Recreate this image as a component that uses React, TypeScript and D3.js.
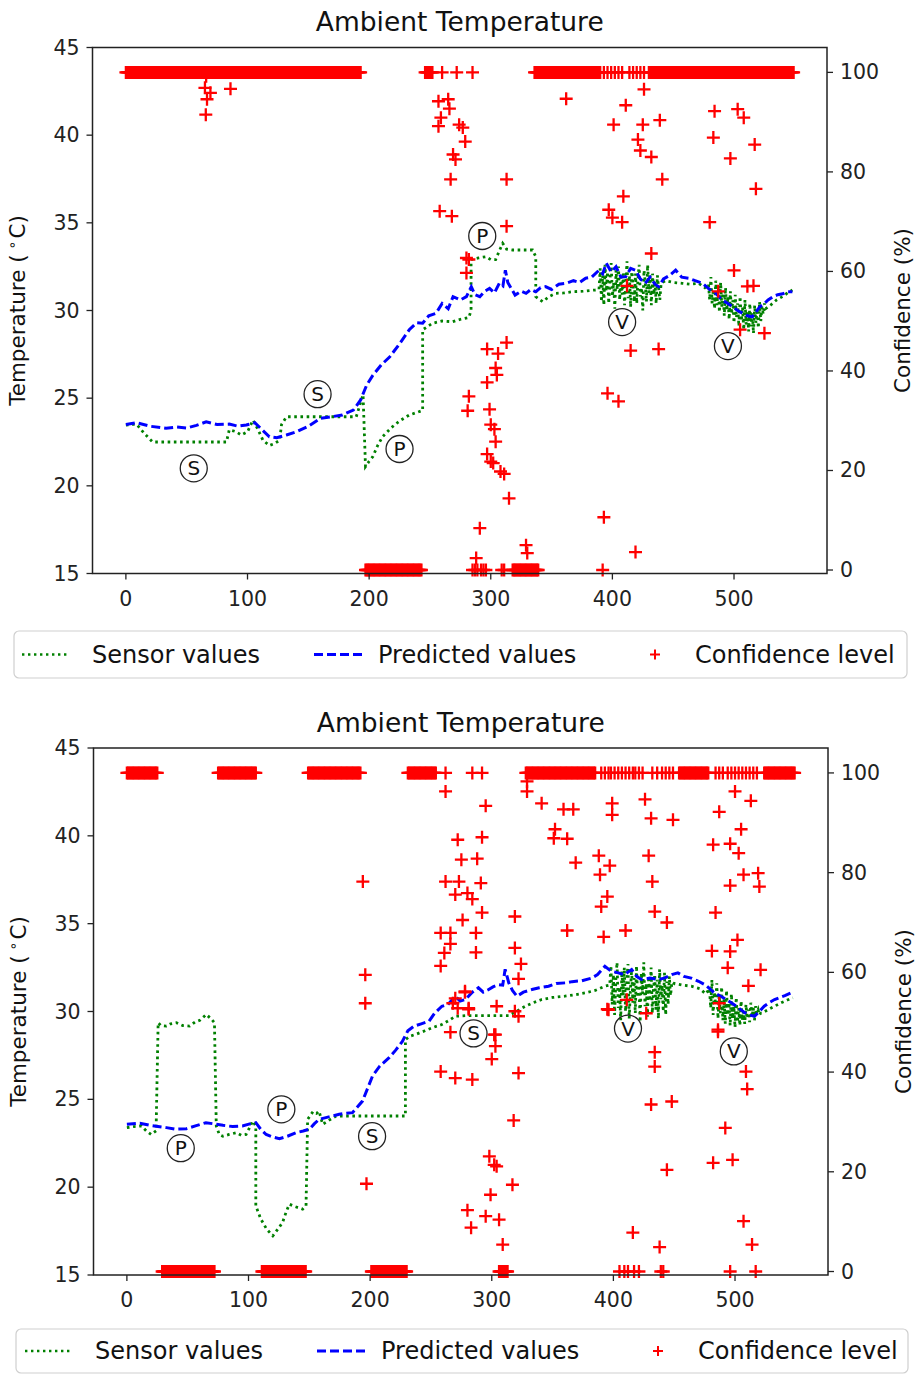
import React from 'react';
import * as d3 from 'd3';

const X_TICKS = [0, 100, 200, 300, 400, 500];
const T_TICKS = [15, 20, 25, 30, 35, 40, 45];
const C_TICKS = [0, 20, 40, 60, 80, 100];
const TITLE = 'Ambient Temperature';
const LEGEND_LABELS = ['Sensor values', 'Predicted values', 'Confidence level'];
const Y_LEFT_LABEL = 'Temperature (';
const Y_RIGHT_LABEL = 'Confidence (%)';

// ---------- Panel 1 ----------
const pred1: number[][] = [[0,23.5],[9,23.6],[20,23.4],[33,23.28],[42,23.35],[50,23.3],[58,23.45],[66,23.65],[75,23.5],[85,23.52],[92,23.4],[99,23.47],[106,23.6],[112,23.2],[118,22.8],[124,22.74],[132,22.9],[140,23.08],[150,23.4],[160,23.85],[170,23.95],[178,24.04],[187,24.32],[193,24.9],[198,25.75],[203,26.3],[210,26.9],[217,27.36],[225,28.1],[233,28.9],[239,29.3],[244,29.27],[249,29.7],[255,29.84],[260,30.4],[265,30.1],[269,30.79],[275,30.6],[280,30.79],[284,31.36],[287,30.9],[291,30.79],[295,31.1],[299,31.26],[303,31.0],[307,31.55],[310,31.4],[312,32.3],[314,31.6],[316,31.36],[320,30.88],[325,31.1],[329,30.98],[333,31.2],[337,31.07],[341,31.3],[345,31.36],[350,31.2],[356,31.5],[362,31.55],[368,31.7],[373,31.6],[378,31.84],[383,31.9],[389,32.3],[392,32.1],[395,32.7],[399,32.2],[403,32.5],[407,31.9],[411,31.93],[415,32.4],[419,32.3],[423,31.8],[427,31.55],[431,31.9],[435,31.5],[438,31.36],[442,31.8],[447,32.0],[452,32.3],[457,31.9],[463,31.84],[468,31.7],[474,31.55],[480,31.2],[485,30.98],[490,30.6],[495,30.4],[499,30.2],[503,30.0],[507,29.84],[511,29.7],[515,29.64],[518,29.9],[521,30.2],[525,30.4],[528,30.6],[532,30.79],[536,30.9],[540,30.95],[544,31.07],[548,31.07]];

const sensor1A: number[][] = [[0,23.47],[5,23.5],[9,23.5],[15,23.0],[22,22.5],[30,22.5],[40,22.5],[50,22.5],[60,22.5],[70,22.5],[82.7,22.5],[85,23.2],[90,23.1],[95,22.9],[100,23.08],[104.5,23.75],[108,23.3],[112.7,22.6],[118,22.3],[122,22.4],[126.4,22.6],[128,23.5],[132,23.94],[150,23.94],[170,23.94],[189.4,23.94],[195,25.2],[197,21.1],[200,21.4],[203,21.66],[207,22.3],[211,22.8],[218,23.3],[225,23.7],[233,24.04],[240,24.2],[244,24.3],[244,28.9],[252,29.27],[260,29.4],[268.7,29.36],[275,29.5],[282,29.6],[283.8,30.0],[283.8,32.9],[290,33.0],[296,33.07],[300,32.9],[304,32.9],[307,33.4],[309.8,33.83],[313,33.5],[318,33.45],[326,33.45],[334.4,33.45],[337,33.07],[337,30.79],[342.6,30.5],[348,30.8],[353.6,30.98],[360,31.0],[367,31.07],[376,31.1],[386,31.17]];
const noise1aStart = 389;
const noise1a = [31.2,32.4,30.5,32.0,30.3,32.6,31.1,32.2,30.4,31.7,32.7,30.8,31.6,30.1,32.3,31.2,32.5,30.6,31.9,30.9,32.2,30.3,31.5,32.8,30.7,32.0,30.2,32.4,31.3,30.5,32.1,30.4,31.8,32.6,30.8,31.3,30.0,32.3,31.6,30.5,32.6,31.0,32.0,30.3,32.1,30.9,31.7,30.4,32.0,31.3,30.6,31.5,31.6];
const sensor1B: number[][] = [[444,31.7],[450,31.6],[457.5,31.55],[464,31.5],[471,31.55],[476,31.3]];
const noise1bStart = 479;
const noise1b = [31.5,30.6,31.9,30.4,31.2,30.1,31.7,30.3,31.4,29.9,31.6,30.2,31.0,29.7,31.3,30.0,30.8,29.5,31.1,29.8,30.6,29.3,30.9,29.6,30.4,29.1,30.8,29.4,30.2,28.9,30.6,29.2,30.0,28.8,30.4,29.1,29.9,28.7,30.3,29.3,30.1,29.0,30.5,29.4,30.2,29.8,30.4,30.1];
const sensor1C: number[][] = [[530,30.3],[535,30.6],[540,30.8],[544,31.0],[548,31.17]];

const conf1Top: number[][] = [[0,193],[246,252],[336,390],[430,549]];
const conf1TopSingles = [260,272,285,393,396,399,402,405,408,414,417,420,423,426];
const conf1Bottom: number[][] = [[197,243],[318,339]];
const conf1BottomSingles = [285,287,289,292,294,296,309,311,392];
const conf1Scatter: number[][] = [[66,99.2],[65,96.9],[69.5,95.9],[66.7,94.6],[65.7,91.5],[86,96.7],[257,94.2],[265,94.6],[266,92.7],[259,90.9],[257,89.2],[274,89.5],[277,88.9],[279,86.1],[269,83.5],[271,82.5],[267,78.5],[258,72.1],[268,71.1],[313,78.5],[313,69.1],[280,62.7],[282,62.4],[280,59.7],[362,94.7],[426,96.6],[411,93.4],[401,89.5],[425,89.5],[439,90.4],[421,86.5],[423,84.3],[432,83],[441,78.5],[409,75.1],[397,72.4],[400,70.8],[408,69.9],[484,92.2],[503,92.6],[508,90.9],[483,86.9],[517,85.5],[497,82.7],[518,76.6],[480,69.9],[432,63.6],[500,60.2],[511,57],[516,57.1],[412,57.1],[487,56],[505,48.3],[525,47.6],[297,44.4],[313,45.7],[306,43.5],[304,40.6],[305,39.2],[297,37.7],[282,34.9],[281,32],[299,32.3],[300,29.2],[303,28.3],[304,25.8],[297,23.3],[300,21.8],[302,21.5],[308,19.8],[311,19.3],[315,14.4],[291,8.4],[288,2.4],[329,5],[330,3.4],[415,44.1],[438,44.4],[396,35.5],[405,33.9],[393,10.6],[419,3.6]];

const notes1: (string | number)[][] = [['P',293,34.25],['S',157.6,25.23],['P',225,22.1],['S',55.8,21.0],['V',408,29.34],['V',495,27.97]];

// ---------- Panel 2 ----------
const pred2: number[][] = [[0,23.58],[10.7,23.64],[19,23.52],[32.5,23.39],[40,23.3],[49,23.33],[57,23.5],[65,23.67],[72,23.6],[79,23.52],[87,23.45],[95,23.48],[101,23.6],[106,23.67],[110,23.3],[114.5,23.0],[120,22.85],[125.4,22.76],[132,22.9],[139,23.1],[145,23.2],[150,23.3],[154,23.6],[158,23.86],[166,24.0],[174.6,24.15],[180,24.2],[185.5,24.24],[193.7,24.9],[202,26.33],[208,26.9],[215.6,27.37],[221,27.8],[226.5,28.3],[231,28.9],[236,29.16],[242,29.3],[248.4,29.45],[253,29.9],[259,30.3],[264,30.4],[270,30.87],[274,30.6],[278.4,30.68],[284,31.1],[289,31.35],[293,31.1],[297.5,31.25],[301,31.4],[305.7,31.53],[309,31.5],[311,32.4],[314,31.63],[317,31.2],[320.7,30.87],[326,31.1],[333,31.25],[339,31.35],[346.7,31.44],[353,31.6],[360.4,31.63],[366,31.7],[374,31.75],[382,31.9],[387,32.1],[393,32.57],[398,32.3],[404,32.2],[409,32.1],[415,32.39],[419,32.0],[423,31.82],[430,31.9],[437,31.82],[442,31.9],[448,32.1],[453,32.2],[458,32.0],[464,31.9],[470,31.72],[476,31.5],[483,31.06],[490,30.8],[497,30.5],[503,30.2],[508,29.93],[512,29.8],[516,29.73],[520,30.0],[524,30.3],[528,30.5],[532.5,30.68],[537,30.8],[541,30.9],[546,31.06],[548,31.06]];

const sensor2A: number[][] = [[0,23.39],[6,23.45],[12,23.48],[16,23.2],[20,23.0],[24,23.2],[25.7,29.36],[28,29.2],[32.5,29.17],[36,29.3],[40.7,29.36],[46,29.2],[51.6,29.17],[56,29.4],[60,29.5],[65.3,29.83],[69,29.6],[72,29.36],[73.5,23.48],[76,23.0],[79,22.9],[84,23.0],[90,23.1],[94,22.95],[98,23.0],[101,23.4],[103.5,23.77],[106,23.48],[106,18.94],[110,18.2],[115,17.6],[120,17.23],[124,17.6],[128,17.99],[131,18.6],[133.6,19.03],[138,18.9],[144.5,18.75],[147.3,18.94],[148.6,23.86],[153,24.3],[156,24.2],[158,24.33],[161,23.58],[166,23.8],[172,24.05],[185,24.05],[200,24.05],[215,24.05],[229,24.05],[229,28.4],[233,28.6],[237.5,28.7],[245,28.9],[252,29.1],[259,29.26],[265,29.5],[270,29.73],[280,29.77],[290,29.77],[300,29.77],[314,29.77],[320,30.0],[327.6,30.3],[334,30.5],[341,30.68],[350,30.8],[360,30.87],[368,30.95],[377,31.06],[385,31.2],[393,31.44]];
const noise2aStart = 397;
const noise2a = [31.5,32.6,30.4,32.1,29.8,31.8,32.8,30.2,31.4,29.5,32.3,30.9,32.5,30.0,31.7,32.7,29.6,31.2,32.4,30.5,31.9,29.9,32.6,30.8,31.5,29.4,32.2,31.0,32.8,30.3,31.6,29.7,32.0,30.6,32.5,29.9,31.3,32.1,30.1,31.8,29.6,32.4,30.7,31.5,30.0,32.2,29.8,31.7,30.4,32.0,30.9,31.6,31.5];
const sensor2B: number[][] = [[450,31.6],[457,31.5],[464,31.44],[471,31.3],[476,31.0]];
const noise2bStart = 479;
const noise2b = [31.3,30.2,31.8,29.8,31.1,30.4,31.6,29.6,30.9,29.9,31.4,29.5,30.7,29.3,31.2,29.8,30.5,29.2,31.0,29.6,30.3,29.1,30.8,29.4,30.2,29.2,30.6,29.5,30.0,29.3,30.4,29.6,30.1,29.4,30.5,29.7,30.2,29.5,30.3,29.9,30.1,29.8,29.9];
const sensor2C: number[][] = [[522,29.9],[527,30.1],[532.5,30.3],[538,30.5],[543,30.65],[547.5,30.78]];

const conf2Top: number[][] = [[0,25],[75,106],[149,192],[231,254],[328,385],[454,478],[524,549]];
const conf2TopSingles = [262,284,292,390,393,396,398,401,404,407,410,413,416,418,421,424,432,436,440,443,446,449,484,487,490,494,497,500,503,506,509,512,515,518];
const conf2Bottom: number[][] = [[29,72],[111,147],[201,230],[306,313]];
const conf2BottomSingles = [405,409,412,417,421,439,441,496,517];
const conf2Scatter: number[][] = [[262,96.3],[295,93.4],[272,86.6],[292,87.1],[275,82.6],[288,82.8],[194,78.2],[262,78.2],[273,78.2],[291,77.9],[270,75.6],[280,75.9],[284,74.7],[292,72],[276,70.5],[258,67.9],[266,67.9],[287,67.9],[266,65.7],[261,63.9],[287,64],[258,61.3],[196,59.5],[196,53.8],[270,54.8],[278,56],[272,52.8],[281,52.8],[304,53.2],[319,71.2],[319,64.9],[324,61.7],[322,58.7],[329,98.3],[329,96.3],[341,93.9],[359,92.7],[367,92.7],[352,88.7],[351,86.9],[362,86.8],[369,82],[388,83.4],[397,81.4],[389,79.6],[395,75.2],[390,73.2],[399,93.9],[399,91.6],[426,94.7],[431,90.9],[449,90.6],[429,83.4],[432,78.2],[434,72.2],[444,70],[362,68.4],[392,67.1],[410,68.4],[500,96.3],[513,94.4],[487,92.2],[505,88.7],[482,85.6],[496,85.8],[503,83.9],[507,79.6],[519,79.9],[496,77.4],[520,77.2],[484,72],[502,66.5],[481,64.3],[496,64.2],[494,60.9],[521,60.5],[511,57.3],[487,53.8],[411,54.5],[395,52.6],[427,51.8],[268,53.8],[278,56.2],[281,52.6],[319,52.2],[322,51.2],[266,48],[303,47.5],[486,48.1],[197,17.6],[258,40.1],[270,38.8],[284,38.5],[302,47.5],[303,45.2],[300,42.6],[298,23.1],[302,21.4],[304,21.1],[299,15.4],[295,11.1],[306,10.4],[280,12.3],[283,8.8],[309,5.4],[322,39.8],[318,30.3],[317,17.4],[434,44],[434,41.1],[431,33.5],[448,34.1],[444,20.4],[416,7.8],[438,4.9],[509,40.1],[510,36.6],[492,28.8],[482,21.8],[498,22.4],[507,10.1],[514,5.4],[396,52.5],[486,48.5]];

const notes2: (string | number)[][] = [['P',44.3,22.22],['P',127,24.43],['S',201.6,22.9],['S',285,28.75],['V',412,29.03],['V',499,27.73]];

// ---------- helpers ----------
function withNoise(parts: number[][][], noises: [number, number[]][]): number[][] {
  const [a, b, c] = parts;
  const n1 = noises[0][1].map((v, i) => [noises[0][0] + i, v]);
  const n2 = noises[1][1].map((v, i) => [noises[1][0] + i, v]);
  return [...a, ...n1, ...b, ...n2, ...c];
}

function confPoints(top: number[][], topS: number[], bot: number[][], botS: number[], scatter: number[][]): number[][] {
  const pts: number[][] = [];
  top.forEach(([s, e]) => { for (let i = s; i <= e; i++) pts.push([i, 100]); });
  topS.forEach((x) => pts.push([x, 100]));
  bot.forEach(([s, e]) => { for (let i = s; i <= e; i++) pts.push([i, 0]); });
  botS.forEach((x) => pts.push([x, 0]));
  scatter.forEach((p) => pts.push(p));
  return pts;
}

const sensor1 = withNoise([sensor1A, sensor1B, sensor1C], [[noise1aStart, noise1a], [noise1bStart, noise1b]]);
const sensor2 = withNoise([sensor2A, sensor2B, sensor2C], [[noise2aStart, noise2a], [noise2bStart, noise2b]]);
const conf1 = confPoints(conf1Top, conf1TopSingles, conf1Bottom, conf1BottomSingles, conf1Scatter);
const conf2 = confPoints(conf2Top, conf2TopSingles, conf2Bottom, conf2BottomSingles, conf2Scatter);

const FONT = 'DejaVu Sans, sans-serif';
const GREEN = '#008000';
const BLUE = '#0000ff';
const RED = '#ff0000';

type PanelProps = {
  left: number; right: number; top: number; bottom: number;
  titleY: number;
  pred: number[][]; sensor: number[][]; conf: number[][]; notes: (string | number)[][];
  legend: { x: number; y: number; w: number; h: number; dx: number };
};

function Plus({ cx, cy, s, w }: { cx: number; cy: number; s: number; w: number }) {
  return <path d={`M${cx - s},${cy}H${cx + s}M${cx},${cy - s}V${cy + s}`} stroke={RED} strokeWidth={w} fill="none" />;
}

function Panel(p: PanelProps) {
  const x = d3.scaleLinear().domain([-27.45, 576.45]).range([p.left, p.right]);
  const yT = d3.scaleLinear().domain([15, 45]).range([p.bottom, p.top]);
  const yC = d3.scaleLinear().domain([-0.7, 105]).range([p.bottom, p.top]);
  const line = d3.line<number[]>().x((d) => x(d[0])).y((d) => yT(d[1]));
  const midY = (p.top + p.bottom) / 2;
  const L = p.legend;
  const ly = L.y + L.h / 2;
  return (
    <g>
      <text x={(p.left + p.right) / 2} y={p.titleY} textAnchor="middle" fontSize={26.5} fontFamily={FONT} fill="#111">{TITLE}</text>
      <path d={line(p.sensor) || ''} fill="none" stroke={GREEN} strokeWidth={2.8} strokeDasharray="2.6,3.6" />
      <path d={line(p.pred) || ''} fill="none" stroke={BLUE} strokeWidth={3} strokeDasharray="9,4" />
      {p.conf.map((d, i) => <Plus key={i} cx={x(d[0])} cy={yC(d[1])} s={6.5} w={2.3} />)}
      {p.notes.map((n, i) => (
        <g key={'n' + i}>
          <circle cx={x(n[1] as number)} cy={yT(n[2] as number)} r={13.5} fill="none" stroke="#222" strokeWidth={1.3} />
          <text x={x(n[1] as number)} y={yT(n[2] as number) + 7} textAnchor="middle" fontSize={20} fontFamily={FONT} fill="#111">{n[0]}</text>
        </g>
      ))}
      <rect x={p.left} y={p.top} width={p.right - p.left} height={p.bottom - p.top} fill="none" stroke="#222" strokeWidth={1.5} />
      {T_TICKS.map((t) => (
        <g key={'t' + t}>
          <line x1={p.left - 6} x2={p.left} y1={yT(t)} y2={yT(t)} stroke="#222" strokeWidth={1.3} />
          <text x={p.left - 13} y={yT(t) + 7} textAnchor="end" fontSize={20.5} fontFamily={FONT} fill="#222">{t}</text>
        </g>
      ))}
      {C_TICKS.map((t) => (
        <g key={'c' + t}>
          <line x1={p.right} x2={p.right + 6} y1={yC(t)} y2={yC(t)} stroke="#222" strokeWidth={1.3} />
          <text x={p.right + 13} y={yC(t) + 7} textAnchor="start" fontSize={20.5} fontFamily={FONT} fill="#222">{t}</text>
        </g>
      ))}
      {X_TICKS.map((t) => (
        <g key={'x' + t}>
          <line x1={x(t)} x2={x(t)} y1={p.bottom} y2={p.bottom + 6} stroke="#222" strokeWidth={1.3} />
          <text x={x(t)} y={p.bottom + 32} textAnchor="middle" fontSize={20.5} fontFamily={FONT} fill="#222">{t}</text>
        </g>
      ))}
      <text transform={`translate(${p.left - 68},${midY}) rotate(-90)`} textAnchor="middle" fontSize={21.5} fontFamily={FONT} fill="#111">
        {Y_LEFT_LABEL}<tspan dx={5} dy={-8} fontSize={14}>∘</tspan><tspan dx={2} dy={8}>C)</tspan>
      </text>
      <text transform={`translate(${p.right + 83},${midY}) rotate(-90)`} textAnchor="middle" fontSize={21.5} fontFamily={FONT} fill="#111">{Y_RIGHT_LABEL}</text>
      <rect x={L.x} y={L.y} width={L.w} height={L.h} rx={5} fill="#fff" stroke="#cfcfcf" strokeWidth={1.2} />
      <line x1={22 + L.dx} x2={70 + L.dx} y1={ly} y2={ly} stroke={GREEN} strokeWidth={2.6} strokeDasharray="2.4,3.6" />
      <text x={92 + L.dx} y={ly + 8} fontSize={24} fontFamily={FONT} fill="#111">{LEGEND_LABELS[0]}</text>
      <line x1={314 + L.dx} x2={362 + L.dx} y1={ly} y2={ly} stroke={BLUE} strokeWidth={2.8} strokeDasharray="9,4" />
      <text x={378 + L.dx} y={ly + 8} fontSize={24} fontFamily={FONT} fill="#111">{LEGEND_LABELS[1]}</text>
      <Plus cx={655 + L.dx} cy={ly} s={5} w={2} />
      <text x={695 + L.dx} y={ly + 8} fontSize={24} fontFamily={FONT} fill="#111">{LEGEND_LABELS[2]}</text>
    </g>
  );
}

export default function App() {
  return (
    <svg width={915} height={1374} style={{ position: 'absolute', left: 0, top: 0, background: '#fff' }}>
      <rect width={915} height={1374} fill="#fff" />
      <Panel left={92.5} right={827} top={47.5} bottom={573.5} titleY={31}
        pred={pred1} sensor={sensor1} conf={conf1} notes={notes1}
        legend={{ x: 14, y: 631, w: 893, h: 47, dx: 0 }} />
      <Panel left={93.5} right={828} top={748} bottom={1275} titleY={732}
        pred={pred2} sensor={sensor2} conf={conf2} notes={notes2}
        legend={{ x: 16, y: 1329, w: 892, h: 44, dx: 3 }} />
    </svg>
  );
}
